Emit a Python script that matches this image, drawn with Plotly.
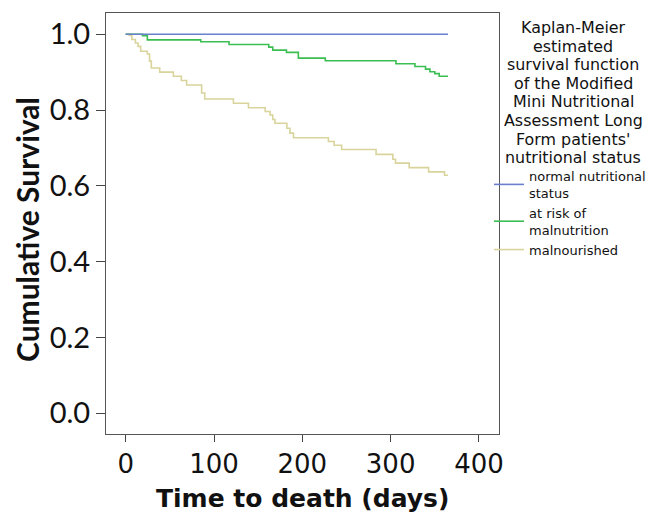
import plotly.graph_objects as go

# ---- data ----
normal_t = [0, 365]
normal_s = [1.0, 1.0]

risk_t = [0, 19, 24.5, 85, 117, 162, 166.5, 182, 195.5, 226, 306, 327.5, 339.5, 344.5, 350, 355, 365]
risk_s = [1.0, 0.996, 0.985, 0.980, 0.973, 0.966, 0.958, 0.952, 0.937, 0.930, 0.922, 0.915, 0.908, 0.901, 0.896, 0.889, 0.889]

mal_t = [0, 4, 7, 11, 14, 17, 24.5, 27, 29, 38.5, 54, 63, 69, 86, 89.5, 122, 139, 158, 163.5, 166.5,
         169, 182.5, 186, 190, 229.5, 236, 244.5, 283.5, 302.5, 305.5, 321, 343, 361, 365]
mal_s = [1.0, 0.997, 0.986, 0.977, 0.968, 0.955, 0.948, 0.929, 0.911, 0.900, 0.889, 0.878, 0.866, 0.845, 0.829,
         0.818, 0.806, 0.796, 0.787, 0.775, 0.765, 0.752, 0.739, 0.727, 0.717, 0.707, 0.696, 0.683, 0.670,
         0.660, 0.648, 0.637, 0.628, 0.628]

series_names = ["normal nutritional<br>status", "at risk of<br>malnutrition", "malnourished"]
x_ticks = [0, 100, 200, 300, 400]
y_ticks = [0.0, 0.2, 0.4, 0.6, 0.8, 1.0]
title_lines = ["Kaplan-Meier", "estimated", "survival function", "of the Modified",
               "Mini Nutritional", "Assessment Long", "Form patients'", "nutritional status"]

colors = ["#6a80cf", "#3cbf52", "#d9d49c"]

W, H = 651, 514
# plot frame in pixels
PL, PR, PT, PB = 106, 499, 13, 434


def px(x):
    return x / W


def py(y):
    return 1 - y / H


fig = go.Figure()
fig.add_trace(go.Scatter(x=mal_t, y=mal_s, mode="lines", line=dict(shape="hv", color=colors[2], width=1.6),
                         name=series_names[2], legendrank=3))
fig.add_trace(go.Scatter(x=risk_t, y=risk_s, mode="lines", line=dict(shape="hv", color=colors[1], width=1.6),
                         name=series_names[1], legendrank=2))
fig.add_trace(go.Scatter(x=normal_t, y=normal_s, mode="lines", line=dict(shape="hv", color=colors[0], width=1.6),
                         name=series_names[0], legendrank=1))

annotations = []
for i, line in enumerate(title_lines):
    ypx = 27.5 + 18.6 * i
    annotations.append(dict(text=line, xref="paper", yref="paper", x=px(573), y=py(ypx),
                            xanchor="center", yanchor="middle", showarrow=False,
                            font=dict(family="DejaVu Sans", size=15.9, color="#111")))
annotations.append(dict(text="<b>Time to death (days)</b>", xref="paper", yref="paper", x=px((PL + PR) / 2),
                        y=py(498), xanchor="center", yanchor="middle", showarrow=False,
                        font=dict(family="DejaVu Sans", size=25, color="#111")))
annotations.append(dict(text="<b>Cumulative Survival</b>", xref="paper", yref="paper",
                        x=px(27), y=py(230), xanchor="center", yanchor="middle",
                        textangle=-90, showarrow=False, font=dict(family="Lato", size=30, color="#111")))

fig.update_layout(
    width=W, height=H, margin=dict(l=0, r=0, t=0, b=0, autoexpand=False),
    paper_bgcolor="white", plot_bgcolor="white",
    showlegend=True,
    legend=dict(x=px(489), xanchor="left", y=py(161), yanchor="top",
                font=dict(family="DejaVu Sans", size=13, color="#111"), bgcolor="rgba(0,0,0,0)",
                tracegroupgap=0, itemwidth=30),
    annotations=annotations,
)
fig.update_xaxes(domain=[px(PL), px(PR)], range=[-22.3, 422.7], tickvals=x_ticks, ticks="outside", ticklen=7,
                 tickcolor="#444", showline=True, linecolor="#555", linewidth=1, mirror=True, showgrid=False,
                 zeroline=False, automargin=False,
                 tickfont=dict(family="DejaVu Sans", size=26, color="#111"))
fig.update_yaxes(domain=[py(PB), py(PT)], range=[-0.0546, 1.056], tickvals=y_ticks, tickformat=".1f",
                 ticks="outside", ticklen=9, tickcolor="#444", showline=True, linecolor="#555", linewidth=1,
                 mirror=True, showgrid=False, zeroline=False, automargin=False,
                 tickfont=dict(family="Lato", size=29, color="#111"))

fig.write_html("out.html", config={"displayModeBar": False},
               post_script="document.body.style.margin='0';document.body.style.overflow='hidden';")
